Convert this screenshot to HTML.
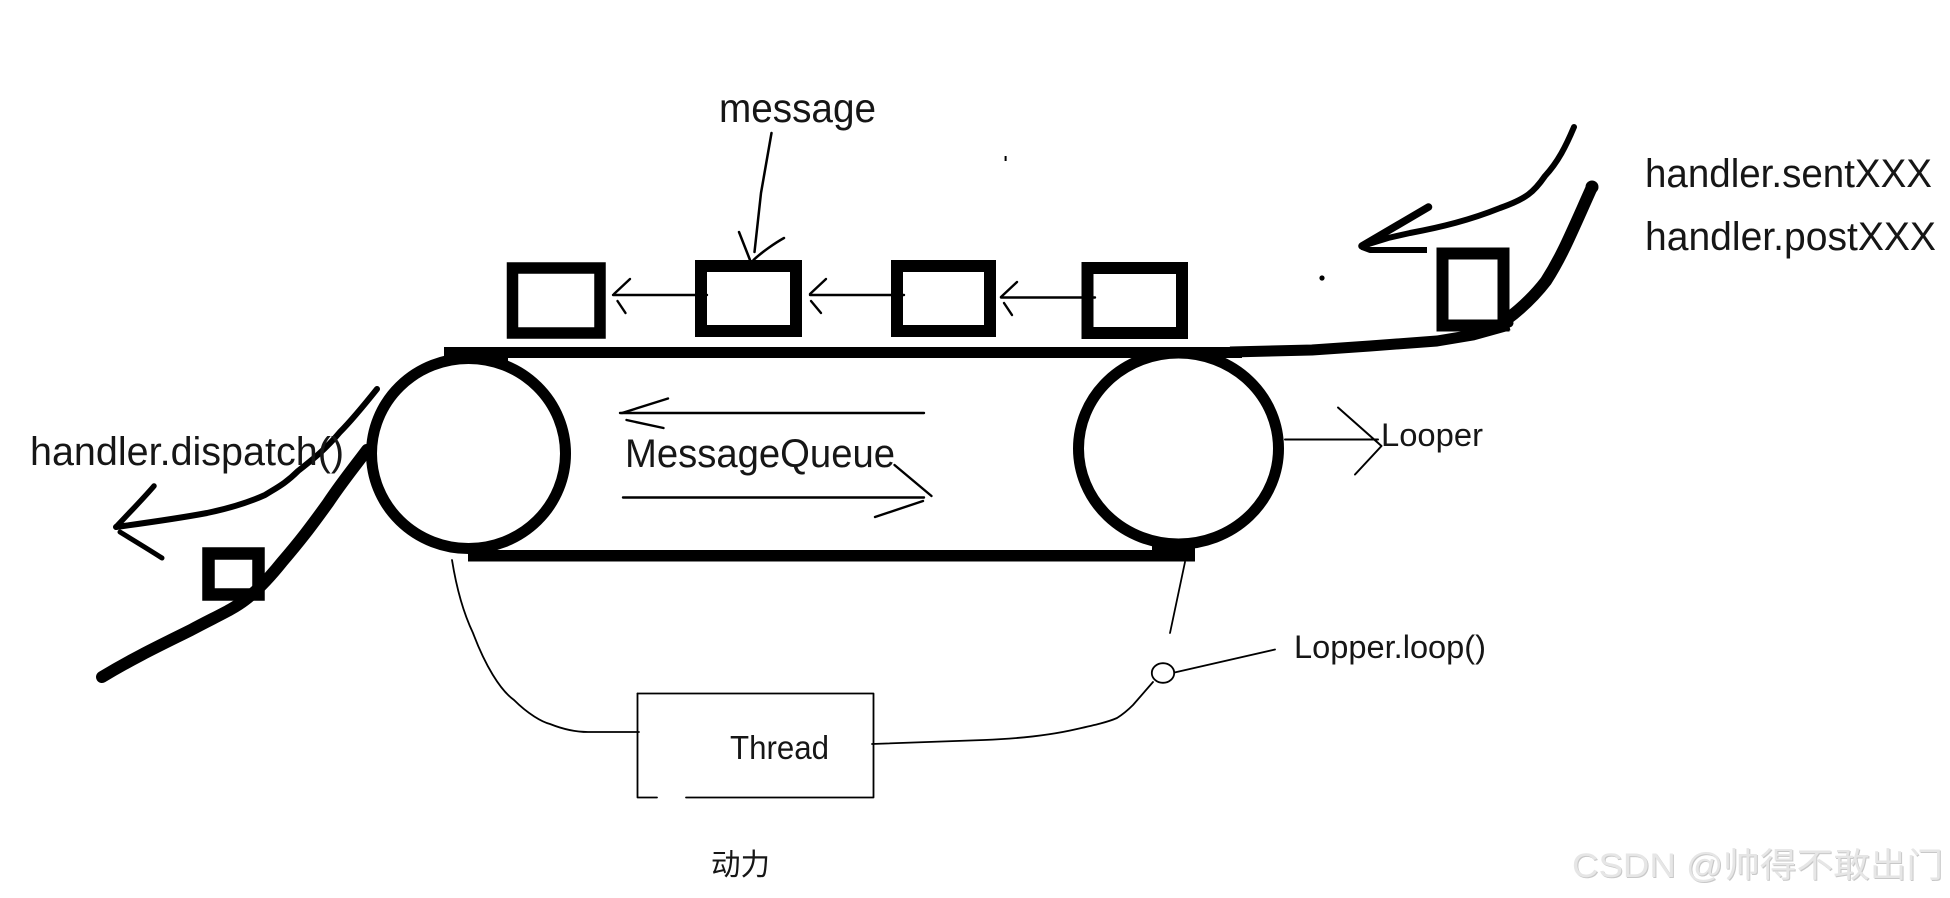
<!DOCTYPE html>
<html lang="zh">
<head>
<meta charset="utf-8">
<title>Handler message diagram</title>
<style>
html,body{margin:0;padding:0;background:#fff;width:1950px;height:898px;overflow:hidden}
svg{display:block}
text{font-family:"Liberation Sans","Noto Sans CJK SC",sans-serif;fill:#161616}
.k{fill:none;stroke:#000;stroke-linecap:round;stroke-linejoin:round}
</style>
</head>
<body>
<svg width="1950" height="898" viewBox="0 0 1950 898" xmlns="http://www.w3.org/2000/svg">
<rect width="1950" height="898" fill="#fff"/>

<!-- rollers -->
<ellipse cx="468.5" cy="453.5" rx="97" ry="95" fill="none" stroke="#000" stroke-width="11"/>
<ellipse cx="1178.5" cy="448.5" rx="100" ry="95.5" fill="none" stroke="#000" stroke-width="11"/>

<!-- belt -->
<rect x="444" y="347" width="798" height="11" fill="#000"/>
<rect x="444" y="350" width="64" height="13" fill="#000"/>
<path d="M1230 352 L1312 350 L1370 346 L1437 341 L1473 335 L1509 325" class="k" stroke-width="11" style="stroke-linecap:butt"/>
<rect x="468" y="550" width="727" height="11.5" fill="#000"/>
<rect x="1152" y="539" width="43" height="22.5" fill="#000"/>

<!-- queue boxes -->
<g fill="#fff" stroke="#000">
<rect x="512.5" y="268" width="87.5" height="65" stroke-width="11.5"/>
<rect x="701" y="266" width="95" height="65" stroke-width="12"/>
<rect x="897" y="266" width="93" height="65" stroke-width="12"/>
<rect x="1087.5" y="268" width="94.5" height="65" stroke-width="12"/>
<rect x="208.5" y="553.5" width="50" height="41" stroke-width="12.5"/>
<rect x="1442.5" y="253.5" width="61" height="72" stroke-width="12"/>
</g>

<!-- right incoming belt -->
<path d="M1506 320 C1522 308 1536 294 1546 281 C1562 256 1570 236 1592 187" class="k" stroke-width="12"/>
<path d="M1480 332 L1509 323" class="k" stroke-width="9"/>
<circle cx="1592" cy="187" r="6.5" fill="#000"/>

<!-- right thick arrow -->
<path d="M1574 127 C1566 146 1558 162 1545 176 C1534 192 1526 199 1500 208 C1470 220 1442 227 1410 233 L1388 238 L1362 246" class="k" stroke-width="6"/>
<path d="M1362 246 L1428.5 207" class="k" stroke-width="7.5"/>
<path d="M1362 247 L1370 250 L1427 250" class="k" stroke-width="6" style="stroke-linecap:butt"/>

<!-- dots -->
<circle cx="1322" cy="278" r="2.6" fill="#000"/>
<rect x="1004.6" y="156" width="2" height="5" fill="#000"/>

<!-- left outgoing belt -->
<path d="M102 677 C135 657 165 643 191 630 C215 617 232 610 245 600 C258 590 270 577 282 562 C300 541 310 528 328 503 C342 482 352 470 367 450" class="k" stroke-width="12"/>

<!-- left arrow -->
<path d="M377 389 C365 404 352 420 340 432 C325 450 312 460 298 471 C285 484 276 488 265 495 C245 504 226 509 207 513 C175 519 145 523 116 527" class="k" stroke-width="6"/>
<path d="M116 527 C128 514 142 500 154 486" class="k" stroke-width="5.5"/>
<path d="M120 532 C133 540 148 549 162 558" class="k" stroke-width="5"/>

<!-- message pointer -->
<g class="k" stroke-width="2.5">
<path d="M771.5 133 L761 193 L754.5 252"/>
<path d="M739 232 L750 260"/>
<path d="M784 238 C775 243 762 252 753.5 260"/>
</g>

<!-- queue arrows -->
<g class="k" stroke-width="2.4">
<path d="M707 295 L613 295"/>
<path d="M630 279 L614 294"/>
<path d="M617.5 301 L625.5 313"/>
<path d="M904 295 L810 295"/>
<path d="M826 279 L810 294"/>
<path d="M811 301 L821 313"/>
<path d="M1095 297.5 L1001 297.5"/>
<path d="M1017 282 L1001 297"/>
<path d="M1004 303 L1012 315"/>
</g>

<!-- MessageQueue arrows -->
<g class="k" stroke-width="2.4">
<path d="M620 413 L924 413"/>
<path d="M668 398.5 L622 413"/>
<path d="M626.5 420 L663.5 428"/>
<path d="M623 497.5 L924 497.5"/>
<path d="M894.5 465 L931.5 496"/>
<path d="M875 517 L923 501"/>
</g>

<!-- Looper arrow -->
<g class="k" stroke-width="2">
<path d="M1285 439.5 L1378 439.5"/>
<path d="M1338 407.5 L1381.5 446 L1355 474.5"/>
</g>

<!-- thin wires -->
<g class="k" stroke-width="1.8">
<path d="M452 560 C456 585 463 612 473 633 C485 665 500 690 514 700 C528 714 542 722 550 724 C565 730 578 732 588 732 L639 732"/>
<path d="M637.5 693.5 L873.5 693.5 L873.5 797.5 L686 797.5"/>
<path d="M657 797.5 L637.5 797.5 L637.5 693.5"/>
<path d="M872 744 L984 740 C1010 739 1047 736 1077 729 C1095 725 1108 722 1117 718 C1125 713 1129 709 1133 705 C1140 697 1147 689 1153 682"/>
<path d="M1185 562 L1170 633"/>
<ellipse cx="1163" cy="673" rx="11.2" ry="9.8" fill="#fff"/>
<path d="M1174.5 672.5 L1275 649.5"/>
</g>

<!-- labels -->
<text x="719" y="122" font-size="41" textLength="157" lengthAdjust="spacingAndGlyphs">message</text>
<text x="1645" y="187" font-size="40" textLength="287" lengthAdjust="spacingAndGlyphs">handler.sentXXX</text>
<text x="1645" y="250" font-size="40" textLength="291" lengthAdjust="spacingAndGlyphs">handler.postXXX</text>
<text x="30" y="465" font-size="40" textLength="314" lengthAdjust="spacingAndGlyphs">handler.dispatch()</text>
<text x="625" y="467" font-size="40" textLength="270" lengthAdjust="spacingAndGlyphs">MessageQueue</text>
<text x="1381" y="446" font-size="32" textLength="102" lengthAdjust="spacingAndGlyphs">Looper</text>
<text x="1294" y="658" font-size="32" textLength="192" lengthAdjust="spacingAndGlyphs">Lopper.loop()</text>
<text x="730" y="759" font-size="33" textLength="99" lengthAdjust="spacingAndGlyphs">Thread</text>
<text x="711" y="875" font-size="30" textLength="59" lengthAdjust="spacingAndGlyphs">动力</text>
<text x="1572" y="877" font-size="34" textLength="371" lengthAdjust="spacingAndGlyphs" style="fill:#e6e6e6;filter:drop-shadow(1px 1px 0 #c8c8c8)">CSDN @帅得不敢出门</text>
</svg>
</body>
</html>
